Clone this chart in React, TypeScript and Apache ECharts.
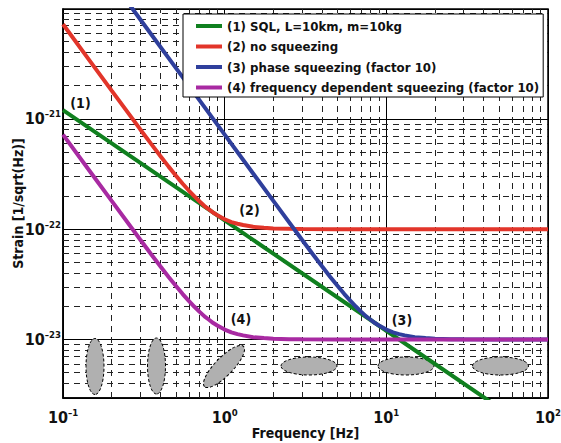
import React, { useEffect, useRef } from "react";
import * as echarts from "echarts";

// ---- data ----
const freqSql = [0.1, 1, 10, 100];
const sqlStrain = [1.2e-21, 1.2e-22, 1.2e-23, 1.2e-24];

const freqNoSq = [0.1, 0.15, 0.2, 0.3, 0.35, 0.4, 0.45, 0.5, 0.55, 0.6, 0.65, 0.7, 0.75, 0.8, 0.85, 0.9, 1, 1.1, 1.2, 1.3, 1.5, 1.75, 2, 2.5, 3, 5, 10, 100];
const noSqueezing = [7.2e-21, 3.2e-21, 1.803e-21, 8.06e-22, 5.96e-22, 4.61e-22, 3.69e-22, 3.05e-22, 2.58e-22, 2.24e-22, 1.98e-22, 1.78e-22, 1.62e-22, 1.51e-22, 1.41e-22, 1.34e-22, 1.23e-22, 1.16e-22, 1.12e-22, 1.09e-22, 1.05e-22, 1.03e-22, 1.016e-22, 1.007e-22, 1.003e-22, 1.0004e-22, 1e-22, 1e-22];

const freqPhase = [0.2, 0.3, 0.5, 1, 1.5, 2, 3, 3.5, 4, 4.5, 5, 5.5, 6, 6.5, 7, 7.5, 8, 8.5, 9, 10, 11, 12, 13, 15, 17.5, 20, 25, 30, 50, 100];
const phaseSqueezing = [1.8e-20, 8.0e-21, 2.88e-21, 7.2e-22, 3.2e-22, 1.803e-22, 8.06e-23, 5.96e-23, 4.61e-23, 3.69e-23, 3.05e-23, 2.58e-23, 2.24e-23, 1.98e-23, 1.78e-23, 1.62e-23, 1.51e-23, 1.41e-23, 1.34e-23, 1.23e-23, 1.16e-23, 1.12e-23, 1.09e-23, 1.05e-23, 1.03e-23, 1.016e-23, 1.007e-23, 1.003e-23, 1.0004e-23, 1e-23];

const freqFds = [0.1, 0.15, 0.2, 0.3, 0.35, 0.4, 0.45, 0.5, 0.55, 0.6, 0.65, 0.7, 0.75, 0.8, 0.85, 0.9, 1, 1.1, 1.2, 1.3, 1.5, 1.75, 2, 2.5, 3, 5, 10, 100];
const fdsSqueezing = [7.2e-22, 3.2e-22, 1.803e-22, 8.06e-23, 5.96e-23, 4.61e-23, 3.69e-23, 3.05e-23, 2.58e-23, 2.24e-23, 1.98e-23, 1.78e-23, 1.62e-23, 1.51e-23, 1.41e-23, 1.34e-23, 1.23e-23, 1.16e-23, 1.12e-23, 1.09e-23, 1.05e-23, 1.03e-23, 1.016e-23, 1.007e-23, 1.003e-23, 1.0004e-23, 1e-23, 1e-23];

const seriesNames = [
  "(1) SQL, L=10km, m=10kg",
  "(2) no squeezing",
  "(3) phase squeezing (factor 10)",
  "(4) frequency dependent squeezing (factor 10)",
];
const seriesColors = ["#10801f", "#e2352a", "#2f3f9c", "#a82aa2"];

const yRange = [2.95e-24, 9.9e-21];
const minorX = [0.2, 0.3, 0.4, 0.5, 0.6, 0.7, 0.8, 0.9, 2, 3, 4, 5, 6, 7, 8, 9, 20, 30, 40, 50, 60, 70, 80, 90];
const minorY = [4e-24, 5e-24, 6e-24, 7e-24, 8e-24, 9e-24, 2e-23, 3e-23, 4e-23, 5e-23, 6e-23, 7e-23, 8e-23, 9e-23, 2e-22, 3e-22, 4e-22, 5e-22, 6e-22, 7e-22, 8e-22, 9e-22, 2e-21, 3e-21, 4e-21, 5e-21, 6e-21, 7e-21, 8e-21, 9e-21];

// ECharts rounds to 20 decimals internally, so strain is handed to the axis in units of 1e-24
const UNIT_EXP = 24;
const toAxis = (v: number) => v * Math.pow(10, UNIT_EXP);

const FONT = '"DejaVu Sans Condensed", "DejaVu Sans", sans-serif';

const powLabel = (offset: number) => (v: number) => {
  const l = Math.log10(v);
  const e = Math.round(l);
  if (Math.abs(l - e) > 1e-6) return "";
  return "{b|10}{s|" + String(e - offset).replace("-", "\u2013") + "}";
};

const richLabel = {
  b: { fontSize: 16, fontWeight: "bold", fontFamily: FONT, color: "#111", lineHeight: 20 },
  s: { fontSize: 9.5, fontWeight: "bold", fontFamily: FONT, color: "#111", lineHeight: 10, verticalAlign: "top" },
};

const ellipses = [
  { x: 95, y: 366.5, r: 90 },
  { x: 156.5, y: 366, r: 90 },
  { x: 224, y: 366.5, r: 46 },
  { x: 309, y: 366, r: 0 },
  { x: 406, y: 366, r: 0 },
  { x: 500.5, y: 366, r: 0 },
];

const annotations = [
  { t: "(1)", x: 80.5, y: 103 },
  { t: "(2)", x: 249.5, y: 210 },
  { t: "(3)", x: 402, y: 320 },
  { t: "(4)", x: 241, y: 319 },
];

export default function App() {
  const ref = useRef<HTMLDivElement>(null);
  useEffect(() => {
    if (!ref.current) return;
    const chart = echarts.init(ref.current, null, { renderer: "svg" });
    const lineSeries = (name: string, color: string, fx: number[], vy: number[], extra: any = {}) => ({
      name,
      type: "line",
      data: fx.map((f, i) => [f, toAxis(vy[i])]),
      showSymbol: false,
      symbol: "none",
      z: 3,
      lineStyle: { color, width: 4 },
      itemStyle: { color },
      ...extra,
    });
    chart.setOption({
      animation: false,
      backgroundColor: "#fff",
      grid: {
        left: 63, right: 13, top: 9, bottom: 45,
        containLabel: false,
        outerBoundsMode: "none",
        show: true, borderColor: "#000", borderWidth: 1.5, backgroundColor: "transparent",
      },
      legend: {
        orient: "vertical",
        left: 183,
        top: 14,
        data: seriesNames,
        icon: "rect",
        itemWidth: 26,
        itemHeight: 4,
        itemGap: 4.5,
        padding: [4, 4, 1.5, 13],
        borderColor: "#000",
        borderWidth: 1,
        borderRadius: 0,
        backgroundColor: "#fff",
        z: 10,
        textStyle: { fontFamily: FONT, fontWeight: "bold", fontSize: 13.1, color: "#111", lineHeight: 16 },
      },
      xAxis: {
        type: "log",
        logBase: 10,
        min: 0.1,
        max: 100,
        name: "Frequency [Hz]",
        nameLocation: "middle",
        nameGap: 28,
        nameMoveOverlap: false,
        nameTextStyle: { fontFamily: FONT, fontWeight: "bold", fontSize: 14, color: "#111" },
        axisLine: { show: true, lineStyle: { color: "#000", width: 1.5 } },
        axisTick: { show: false },
        axisLabel: { formatter: powLabel(0), rich: richLabel, margin: 9 },
        splitLine: { show: true, lineStyle: { color: "#000", width: 1, type: "solid" } },
      },
      yAxis: {
        type: "log",
        logBase: 10,
        min: toAxis(yRange[0]),
        max: toAxis(yRange[1]),
        name: "Strain [1/sqrt(Hz)]",
        nameLocation: "middle",
        nameRotate: 90,
        nameGap: 38,
        nameMoveOverlap: false,
        nameTextStyle: { fontFamily: FONT, fontWeight: "bold", fontSize: 14, color: "#111" },
        axisLine: { show: true, lineStyle: { color: "#000", width: 1.5 } },
        axisTick: { show: false },
        axisLabel: { formatter: powLabel(UNIT_EXP), rich: richLabel, margin: 2 },
        splitLine: { show: true, lineStyle: { color: "#000", width: 1, type: "solid" } },
      },
      graphic: [
        ...ellipses.map((e) => ({
          type: "ellipse",
          x: e.x,
          y: e.y,
          rotation: (e.r * Math.PI) / 180,
          z: 2,
          shape: { cx: 0, cy: 0, rx: 28, ry: 9 },
          style: { fill: "#b0b0b0", stroke: "#000", lineWidth: 1, lineDash: [3, 2] },
        })),
        ...annotations.map((a) => ({
          type: "text",
          x: a.x,
          y: a.y,
          z: 4,
          style: { text: a.t, fill: "#111", fontFamily: FONT, fontWeight: "bold", fontSize: 14, textAlign: "center", textVerticalAlign: "middle" },
        })),
      ],
      series: [
        lineSeries(seriesNames[0], seriesColors[0], freqSql, sqlStrain, {
          markLine: {
            silent: true,
            symbol: "none",
            z: 1,
            label: { show: false },
            lineStyle: { color: "#222", width: 1, type: [6, 5] },
            data: [...minorX.map((v) => ({ xAxis: v })), ...minorY.map((v) => ({ yAxis: toAxis(v) }))],
          },
        }),
        lineSeries(seriesNames[1], seriesColors[1], freqNoSq, noSqueezing),
        lineSeries(seriesNames[2], seriesColors[2], freqPhase, phaseSqueezing),
        lineSeries(seriesNames[3], seriesColors[3], freqFds, fdsSqueezing),
      ],
    });
    return () => chart.dispose();
  }, []);
  return <div ref={ref} style={{ position: "fixed", left: 0, top: 0, width: 561, height: 443 }} />;
}
